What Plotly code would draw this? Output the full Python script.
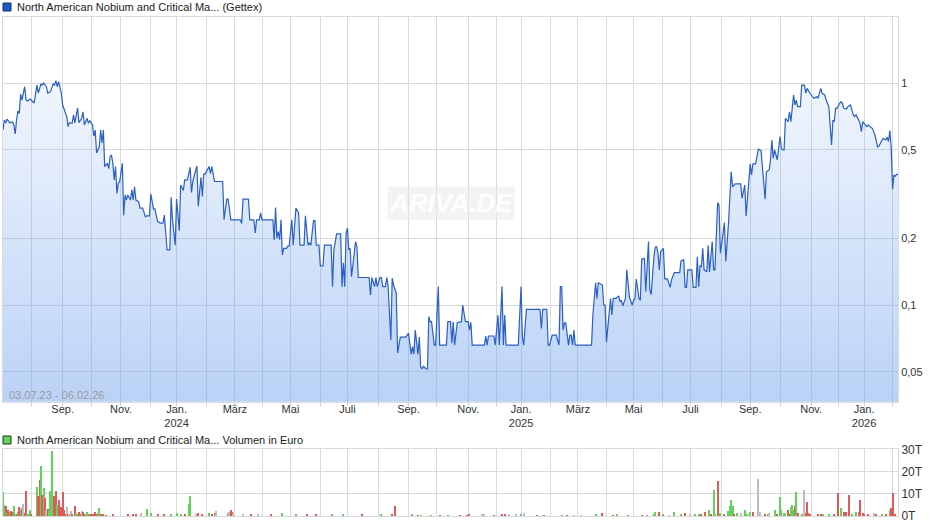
import pandas as pd
import plotly.graph_objects as go

# ---------------- data ----------------
HOLIDAYS = ["2023-12-25", "2023-12-26", "2024-01-01", "2024-03-29", "2024-04-01", "2024-05-01",
            "2024-12-24", "2024-12-25", "2024-12-26", "2024-12-31", "2025-01-01", "2025-04-18",
            "2025-04-21", "2025-05-01", "2025-12-24", "2025-12-25", "2025-12-26", "2025-12-31",
            "2026-01-01"]

price_dates = [
    "2023-07-03", "2023-07-04", "2023-07-05", "2023-07-06", "2023-07-10", "2023-07-12", "2023-07-13", "2023-07-14",
    "2023-07-17", "2023-07-18", "2023-07-19", "2023-07-20", "2023-07-21", "2023-07-25", "2023-07-26", "2023-07-27",
    "2023-07-31", "2023-08-02", "2023-08-03", "2023-08-07", "2023-08-08", "2023-08-10", "2023-08-11", "2023-08-14",
    "2023-08-16", "2023-08-17", "2023-08-21", "2023-08-23", "2023-08-24", "2023-08-25", "2023-08-28", "2023-08-29",
    "2023-08-31", "2023-09-01", "2023-09-05", "2023-09-06", "2023-09-07", "2023-09-08", "2023-09-12", "2023-09-13",
    "2023-09-14", "2023-09-15", "2023-09-18", "2023-09-19", "2023-09-21", "2023-09-22", "2023-09-25", "2023-09-27",
    "2023-09-28", "2023-09-29", "2023-10-03", "2023-10-04", "2023-10-05", "2023-10-06", "2023-10-10", "2023-10-11",
    "2023-10-12", "2023-10-13", "2023-10-16", "2023-10-18", "2023-10-19", "2023-10-20", "2023-10-23", "2023-10-24",
    "2023-10-25", "2023-10-26", "2023-10-27", "2023-10-30", "2023-10-31", "2023-11-02", "2023-11-03", "2023-11-06",
    "2023-11-07", "2023-11-08", "2023-11-10", "2023-11-13", "2023-11-14", "2023-11-15", "2023-11-16", "2023-11-20",
    "2023-11-21", "2023-11-23", "2023-11-27", "2023-11-28", "2023-11-30", "2023-12-01", "2023-12-05", "2023-12-06",
    "2023-12-08", "2023-12-12", "2023-12-14", "2023-12-15", "2023-12-19", "2023-12-21", "2023-12-22", "2023-12-27",
    "2023-12-29",
    "2024-01-02", "2024-01-04", "2024-01-05", "2024-01-09", "2024-01-10", "2024-01-12", "2024-01-16", "2024-01-17",
    "2024-01-18", "2024-01-23", "2024-01-24", "2024-01-26", "2024-01-29", "2024-01-30", "2024-01-31", "2024-02-05",
    "2024-02-06", "2024-02-07", "2024-02-09", "2024-02-19", "2024-02-20", "2024-02-22", "2024-02-23", "2024-02-27",
    "2024-02-29", "2024-03-07", "2024-03-08", "2024-03-11", "2024-03-15", "2024-03-18", "2024-03-21", "2024-03-22",
    "2024-03-25", "2024-03-27", "2024-03-28", "2024-04-02", "2024-04-12", "2024-04-15", "2024-04-16", "2024-04-17",
    "2024-04-18", "2024-04-19", "2024-04-22", "2024-04-23", "2024-04-24", "2024-04-26", "2024-04-29", "2024-04-30",
    "2024-05-03", "2024-05-06", "2024-05-08", "2024-05-09", "2024-05-10", "2024-05-13", "2024-05-16", "2024-05-17",
    "2024-05-21", "2024-05-22", "2024-05-23", "2024-05-27", "2024-05-28", "2024-05-29", "2024-05-31", "2024-06-03",
    "2024-06-05", "2024-06-06", "2024-06-13", "2024-06-14", "2024-06-17", "2024-06-19", "2024-06-24", "2024-06-25",
    "2024-06-26", "2024-06-27", "2024-06-28", "2024-07-01", "2024-07-02", "2024-07-03", "2024-07-04", "2024-07-09",
    "2024-07-10", "2024-07-11", "2024-07-23", "2024-07-24", "2024-07-25", "2024-07-29", "2024-07-30", "2024-07-31",
    "2024-08-02", "2024-08-05", "2024-08-06", "2024-08-08", "2024-08-09", "2024-08-12", "2024-08-14", "2024-08-15",
    "2024-08-16", "2024-08-20", "2024-08-21", "2024-08-23", "2024-08-29", "2024-09-02", "2024-09-04", "2024-09-05",
    "2024-09-06", "2024-09-09", "2024-09-11", "2024-09-12", "2024-09-13", "2024-09-16", "2024-09-17", "2024-09-19",
    "2024-09-20", "2024-09-23", "2024-09-24", "2024-09-25", "2024-09-27", "2024-09-30", "2024-10-02", "2024-10-03",
    "2024-10-10", "2024-10-11", "2024-10-15", "2024-10-16", "2024-10-17", "2024-10-18", "2024-10-22", "2024-10-25",
    "2024-10-28", "2024-10-30", "2024-10-31", "2024-11-01", "2024-11-04", "2024-11-05", "2024-11-06", "2024-11-19",
    "2024-11-20", "2024-11-21", "2024-11-22", "2024-11-28", "2024-11-29", "2024-12-03", "2024-12-04", "2024-12-06",
    "2024-12-09", "2024-12-10", "2024-12-11", "2024-12-27",
    "2025-01-02", "2025-01-03", "2025-01-06", "2025-01-08", "2025-01-22", "2025-01-23", "2025-01-24", "2025-01-29",
    "2025-01-30", "2025-01-31", "2025-02-04", "2025-02-07", "2025-02-11", "2025-02-12", "2025-02-13", "2025-02-14",
    "2025-02-17", "2025-02-18", "2025-02-20", "2025-02-21", "2025-02-24", "2025-02-25", "2025-02-26", "2025-02-27",
    "2025-03-17", "2025-03-18", "2025-03-20", "2025-03-21", "2025-03-24", "2025-03-27", "2025-03-28", "2025-03-31",
    "2025-04-01", "2025-04-03", "2025-04-04", "2025-04-07", "2025-04-08", "2025-04-10", "2025-04-14", "2025-04-15",
    "2025-04-16", "2025-04-17", "2025-04-23", "2025-04-24", "2025-04-28", "2025-04-30", "2025-05-02", "2025-05-05",
    "2025-05-06", "2025-05-08", "2025-05-09", "2025-05-12", "2025-05-14", "2025-05-15", "2025-05-19", "2025-05-20",
    "2025-05-21", "2025-05-23", "2025-05-26", "2025-05-27", "2025-05-28", "2025-05-29", "2025-05-30", "2025-06-03",
    "2025-06-04", "2025-06-06", "2025-06-10", "2025-06-11", "2025-06-13", "2025-06-19", "2025-06-20", "2025-06-24",
    "2025-06-25", "2025-06-26", "2025-06-27", "2025-06-30", "2025-07-02", "2025-07-03", "2025-07-07", "2025-07-08",
    "2025-07-09", "2025-07-10", "2025-07-11", "2025-07-14", "2025-07-15", "2025-07-17", "2025-07-18", "2025-07-21",
    "2025-07-23", "2025-07-24", "2025-07-25", "2025-07-29", "2025-07-30", "2025-07-31", "2025-08-05", "2025-08-06",
    "2025-08-08", "2025-08-12", "2025-08-13", "2025-08-15", "2025-08-21", "2025-08-22", "2025-08-26", "2025-08-27",
    "2025-08-29", "2025-09-01", "2025-09-02", "2025-09-03", "2025-09-05", "2025-09-09", "2025-09-11", "2025-09-12",
    "2025-09-16", "2025-09-17", "2025-09-19", "2025-09-22", "2025-09-23", "2025-09-24", "2025-09-25", "2025-09-29",
    "2025-09-30", "2025-10-01", "2025-10-02", "2025-10-03", "2025-10-06", "2025-10-07", "2025-10-09", "2025-10-10",
    "2025-10-13", "2025-10-14", "2025-10-15", "2025-10-16", "2025-10-17", "2025-10-20", "2025-10-22", "2025-10-23",
    "2025-10-27", "2025-10-28", "2025-10-29", "2025-10-31", "2025-11-04", "2025-11-05", "2025-11-07", "2025-11-10",
    "2025-11-12", "2025-11-13", "2025-11-17", "2025-11-18", "2025-11-20", "2025-11-21", "2025-11-24", "2025-11-25",
    "2025-11-26", "2025-11-27", "2025-11-28", "2025-12-02", "2025-12-03", "2025-12-04", "2025-12-05", "2025-12-09",
    "2025-12-10", "2025-12-12", "2025-12-15", "2025-12-16", "2025-12-17", "2025-12-18", "2025-12-22", "2025-12-23",
    "2025-12-29", "2025-12-30",
    "2026-01-02", "2026-01-06", "2026-01-07", "2026-01-09", "2026-01-12", "2026-01-13", "2026-01-14", "2026-01-16",
    "2026-01-19", "2026-01-20", "2026-01-21", "2026-01-22", "2026-01-26", "2026-01-27", "2026-01-28", "2026-01-29",
    "2026-01-30", "2026-02-02", "2026-02-03", "2026-02-04", "2026-02-05", "2026-02-06"]

price_values = [
    0.614, 0.681, 0.661, 0.688, 0.661, 0.667, 0.647, 0.589,
    0.681, 0.748, 0.730, 0.892, 0.838, 0.962, 0.838, 0.830,
    0.847, 0.824, 0.813, 0.979, 0.901, 0.990, 0.979, 1.000,
    0.962, 0.901, 0.914, 0.990, 0.979, 1.024, 0.962, 1.014,
    0.901, 0.796, 0.733, 0.706, 0.636, 0.663, 0.658, 0.718,
    0.661, 0.706, 0.772, 0.663, 0.694, 0.742, 0.647, 0.694,
    0.658, 0.677, 0.647, 0.577, 0.614, 0.484, 0.516, 0.614,
    0.537, 0.614, 0.420, 0.435, 0.411, 0.466, 0.474, 0.435,
    0.366, 0.420, 0.318, 0.353, 0.358, 0.435, 0.254, 0.313,
    0.297, 0.313, 0.297, 0.330, 0.297, 0.341, 0.297, 0.292,
    0.273, 0.273, 0.250, 0.252, 0.252, 0.316, 0.271, 0.271,
    0.238, 0.234, 0.234, 0.254, 0.177, 0.177, 0.306, 0.242,
    0.186,
    0.300, 0.216, 0.347, 0.328, 0.366, 0.366, 0.417, 0.321,
    0.361, 0.423, 0.278, 0.376, 0.308, 0.389, 0.389, 0.420,
    0.392, 0.420, 0.360, 0.360, 0.242, 0.300, 0.300, 0.242,
    0.242, 0.242, 0.233, 0.300, 0.300, 0.242, 0.242, 0.211,
    0.242, 0.242, 0.260, 0.242, 0.242, 0.196, 0.275, 0.200,
    0.214, 0.197, 0.242, 0.168, 0.180, 0.180, 0.184, 0.184,
    0.242, 0.186, 0.273, 0.265, 0.260, 0.186, 0.186, 0.252,
    0.186, 0.190, 0.186, 0.240, 0.240, 0.186, 0.186, 0.150,
    0.150, 0.186, 0.186, 0.121, 0.177, 0.209, 0.209, 0.121,
    0.155, 0.121, 0.211, 0.222, 0.177, 0.180, 0.134, 0.193,
    0.183, 0.133, 0.133, 0.111, 0.133, 0.121, 0.133, 0.121,
    0.133, 0.133, 0.121, 0.121, 0.133, 0.121, 0.0696, 0.132,
    0.123, 0.113, 0.0608, 0.0717, 0.0717, 0.0748, 0.0601, 0.0649,
    0.0601, 0.0772, 0.0601, 0.0717, 0.0526, 0.0515, 0.0530, 0.0515,
    0.0515, 0.0886, 0.0841, 0.0841, 0.0660, 0.0660, 0.121, 0.0660,
    0.0660, 0.0841, 0.0841, 0.0672, 0.0841, 0.0660, 0.0832, 0.0841,
    0.100, 0.0841, 0.0841, 0.0841, 0.0772, 0.0835, 0.0660, 0.0660,
    0.0725, 0.0660, 0.0725, 0.0725, 0.0660, 0.0902, 0.0660, 0.121,
    0.0660, 0.0902, 0.0660, 0.0660,
    0.121, 0.0717, 0.0660, 0.0956, 0.0956, 0.0785, 0.0956, 0.0956,
    0.0660, 0.0660, 0.0732, 0.0732, 0.0660, 0.121, 0.121, 0.0772,
    0.0832, 0.0832, 0.0660, 0.0732, 0.0732, 0.0660, 0.0772, 0.0660,
    0.0660, 0.0902, 0.126, 0.107, 0.126, 0.123, 0.100, 0.100,
    0.068, 0.0886, 0.107, 0.0902, 0.107, 0.107, 0.110, 0.1035,
    0.105, 0.099, 0.107, 0.144, 0.108, 0.100, 0.105, 0.107,
    0.131, 0.107, 0.105, 0.161, 0.162, 0.115, 0.193, 0.117,
    0.1115, 0.165, 0.182, 0.183, 0.171, 0.144, 0.174, 0.180,
    0.131, 0.131, 0.120, 0.130, 0.140, 0.140, 0.158, 0.160,
    0.120, 0.120, 0.144, 0.144, 0.144, 0.120, 0.120, 0.165,
    0.121, 0.150, 0.149, 0.180, 0.144, 0.141, 0.186, 0.141,
    0.193, 0.144, 0.144, 0.289, 0.282, 0.171, 0.235, 0.157,
    0.233, 0.398, 0.341, 0.351, 0.351, 0.3025, 0.347, 0.252,
    0.347, 0.432, 0.385, 0.432, 0.432, 0.503, 0.496, 0.427,
    0.300, 0.398, 0.406, 0.450, 0.554, 0.458, 0.500, 0.450,
    0.503, 0.573, 0.508, 0.500, 0.500, 0.693, 0.670, 0.742,
    0.670, 0.810, 0.883, 0.796, 0.838, 0.782, 0.782, 0.979,
    0.979, 0.899, 0.946, 0.899, 0.868, 0.853, 0.868, 0.853,
    0.946, 0.899, 0.883, 0.838, 0.782, 0.658, 0.526, 0.681,
    0.670, 0.769, 0.769, 0.810, 0.824, 0.810, 0.769, 0.763,
    0.782, 0.796, 0.756, 0.718, 0.706, 0.718, 0.681, 0.658,
    0.604, 0.670,
    0.658, 0.636, 0.647, 0.636, 0.625, 0.604, 0.583, 0.516,
    0.520, 0.535, 0.554, 0.563, 0.554, 0.570, 0.545, 0.610,
    0.508, 0.332, 0.385, 0.380, 0.388, 0.388]

vol_dates = [
    "2023-07-03", "2023-07-04", "2023-07-05", "2023-07-06", "2023-07-07", "2023-07-10", "2023-07-11", "2023-07-12",
    "2023-07-13", "2023-07-14", "2023-07-17", "2023-07-18", "2023-07-19", "2023-07-20", "2023-07-21", "2023-07-24",
    "2023-07-25", "2023-07-26", "2023-07-27", "2023-07-28", "2023-07-31", "2023-08-01", "2023-08-07", "2023-08-08",
    "2023-08-09", "2023-08-10", "2023-08-11", "2023-08-14", "2023-08-15", "2023-08-16", "2023-08-17", "2023-08-18",
    "2023-08-21", "2023-08-22", "2023-08-23", "2023-08-24", "2023-08-25", "2023-08-28", "2023-08-29", "2023-08-30",
    "2023-08-31", "2023-09-01", "2023-09-04", "2023-09-05", "2023-09-06", "2023-09-07", "2023-09-08", "2023-09-11",
    "2023-09-12", "2023-09-14", "2023-09-15", "2023-09-18", "2023-09-19", "2023-09-20", "2023-09-21", "2023-09-22",
    "2023-09-25", "2023-09-26", "2023-09-27", "2023-09-28", "2023-09-29", "2023-10-02", "2023-10-03", "2023-10-04",
    "2023-10-05", "2023-10-06", "2023-10-09", "2023-10-10", "2023-10-11", "2023-10-13", "2023-10-17", "2023-10-24",
    "2023-11-08", "2023-11-14", "2023-11-16", "2023-11-22", "2023-11-28", "2023-12-01", "2023-12-08", "2023-12-15",
    "2023-12-22",
    "2024-01-02", "2024-01-05", "2024-01-10", "2024-01-15", "2024-01-16", "2024-01-22", "2024-01-24", "2024-01-29",
    "2024-02-05", "2024-02-07", "2024-02-09", "2024-02-12", "2024-02-23", "2024-02-26", "2024-02-27", "2024-02-28",
    "2024-02-29", "2024-03-11", "2024-03-19", "2024-03-26", "2024-04-11", "2024-04-23", "2024-05-08", "2024-05-20",
    "2024-05-29", "2024-06-14", "2024-06-26", "2024-07-16", "2024-08-05", "2024-08-15", "2024-08-19", "2024-09-05",
    "2024-09-11", "2024-09-13", "2024-09-25", "2024-10-03", "2024-10-11", "2024-10-24", "2024-10-31", "2024-11-04",
    "2024-11-15", "2024-11-19", "2024-11-28", "2024-12-06", "2024-12-10", "2024-12-13", "2024-12-20",
    "2025-01-02", "2025-01-06", "2025-01-20", "2025-01-27", "2025-02-13", "2025-02-19", "2025-02-26", "2025-03-05",
    "2025-03-20", "2025-03-27", "2025-04-08", "2025-04-11", "2025-04-25", "2025-05-12", "2025-05-16", "2025-05-23",
    "2025-05-26", "2025-05-29", "2025-06-03", "2025-06-09", "2025-06-13", "2025-06-20", "2025-06-25", "2025-07-01",
    "2025-07-04", "2025-07-09", "2025-07-11", "2025-07-16", "2025-07-21", "2025-07-22", "2025-07-24", "2025-07-25",
    "2025-07-29", "2025-07-31", "2025-08-05", "2025-08-08", "2025-08-11", "2025-08-12", "2025-08-13", "2025-08-14",
    "2025-08-18", "2025-08-21", "2025-08-26", "2025-08-28", "2025-09-01", "2025-09-03", "2025-09-09", "2025-09-10",
    "2025-09-16", "2025-09-18", "2025-09-19", "2025-09-25", "2025-09-29", "2025-10-01", "2025-10-02", "2025-10-06",
    "2025-10-07", "2025-10-09", "2025-10-10", "2025-10-13", "2025-10-14", "2025-10-15", "2025-10-16", "2025-10-17",
    "2025-10-20", "2025-10-23", "2025-10-27", "2025-10-28", "2025-10-29", "2025-10-30", "2025-10-31", "2025-11-10",
    "2025-11-12", "2025-11-14", "2025-11-20", "2025-11-26", "2025-12-01", "2025-12-03", "2025-12-05", "2025-12-09",
    "2025-12-11", "2025-12-15", "2025-12-18", "2025-12-22", "2025-12-23", "2025-12-30",
    "2026-01-02", "2026-01-07", "2026-01-13", "2026-01-15", "2026-01-21", "2026-01-26", "2026-01-29", "2026-01-30",
    "2026-02-02", "2026-02-04"]

vol_values = [
    10500, 5000, 4500, 1200, 2700, 1500, 2200, 1500,
    4200, 900, 500, 1500, 3700, 2700, 3300, 5400,
    1200, 11200, 500, 500, 2700, 500, 12700, 8700,
    15900, 22200, 9500, 12300, 8100, 2700, 3200, 2000,
    11200, 29200, 3200, 9000, 11200, 5000, 6900, 1500,
    3900, 10800, 2700, 500, 3900, 500, 500, 2000,
    500, 4500, 1200, 700, 1800, 900, 2100, 1500,
    500, 500, 1500, 800, 500, 500, 500, 500,
    1500, 500, 1200, 3500, 500, 900, 300, 500,
    500, 500, 500, 1200, 3200, 1200, 700, 500,
    500,
    1200, 500, 700, 5400, 9000, 500, 1200, 500,
    1200, 500, 1200, 2200, 1000, 1500, 2700, 1600,
    500, 500, 500, 500, 500, 1200, 500, 500,
    500, 500, 500, 500, 500, 500, 4500, 500,
    300, 300, 300, 300, 300, 300, 300, 500,
    500, 500, 300, 600, 500, 500, 500,
    700, 1200, 300, 300, 300, 300, 300, 300,
    600, 1200, 300, 600, 300, 300, 300, 900,
    1500, 1500, 600, 300, 1500, 600, 1200, 800,
    500, 500, 600, 1500, 2500, 800, 11700, 500,
    15800, 1200, 500, 2100, 4500, 6900, 4200, 600,
    1200, 1200, 2400, 600, 1500, 1500, 16500, 1500,
    600, 900, 1200, 2400, 600, 8200, 2400, 1200,
    1200, 2700, 600, 3900, 5000, 2700, 4200, 10800,
    1200, 800, 11400, 1200, 6000, 1000, 500, 600,
    500, 900, 500, 600, 10000, 3300, 1500, 1500,
    9300, 600, 1500, 1500, 6900, 1200,
    500, 600, 1200, 900, 500, 500, 2700, 3600,
    10000, 600]

# u = up (green), d = down (red), n = unchanged (grey)
vol_dirs = [
    "u", "u", "d", "u", "d", "u", "d", "d",
    "u", "u", "d", "u", "d", "u", "d", "n",
    "d", "d", "u", "u", "u", "d", "u", "d",
    "d", "u", "d", "u", "d", "n", "d", "u",
    "u", "u", "u", "d", "d", "u", "d", "d",
    "d", "d", "d", "d", "n", "d", "n", "n",
    "d", "d", "u", "u", "d", "d", "n", "d",
    "d", "u", "u", "u", "d", "d", "d", "d",
    "d", "d", "u", "u", "d", "d", "d", "d",
    "d", "d", "d", "n", "u", "u", "d", "d",
    "u",
    "u", "u", "d", "u", "u", "n", "d", "d",
    "u", "d", "d", "n", "u", "n", "d", "d",
    "n", "n", "d", "n", "d", "u", "u", "d",
    "d", "u", "u", "d", "u", "d", "d", "u",
    "d", "u", "u", "d", "u", "d", "d", "d",
    "n", "n", "d", "d", "d", "n", "n",
    "u", "n", "d", "d", "u", "d", "n", "n",
    "u", "d", "d", "u", "u", "d", "u", "u",
    "u", "d", "u", "n", "u", "u", "d", "n",
    "u", "u", "d", "d", "u", "d", "u", "u",
    "d", "u", "d", "u", "u", "u", "u", "d",
    "u", "n", "u", "u", "u", "d", "n", "n",
    "d", "u", "n", "u", "d", "u", "u", "u",
    "u", "d", "d", "u", "u", "u", "d", "u",
    "d", "u", "n", "d", "d", "d", "d", "d",
    "d", "u", "u", "d", "d", "u", "d", "d",
    "d", "u", "u", "d", "d", "d",
    "d", "d", "n", "d", "u", "d", "u", "d",
    "d", "d"]

month_tick_text = ["", "Sep.", "", "Nov.", "", "Jan.<br>2024", "", "März", "", "Mai", "", "Juli",
                   "", "Sep.", "", "Nov.", "", "Jan.<br>2025", "", "März", "", "Mai", "", "Juli",
                   "", "Sep.", "", "Nov.", "", "Jan.<br>2026", ""]

price_tick_vals = [0.05, 0.1, 0.2, 0.5, 1]
price_tick_text = ["0,05", "0,1", "0,2", "0,5", "1"]
vol_tick_vals = [0, 10000, 20000, 30000]
vol_tick_text = ["0T", "10T", "20T", "30T"]

# ---------------- trading-day axis ----------------
days = pd.bdate_range("2023-07-03", "2026-02-06")
days = days[~days.isin(pd.to_datetime(HOLIDAYS))]


def to_idx(ds):
    return [int(i) for i in days.searchsorted(pd.to_datetime(ds))]


px = to_idx(price_dates)
vx = to_idx(vol_dates)
month_starts = pd.date_range("2023-08-01", "2026-02-01", freq="MS")
tickvals = [int(i) for i in days.searchsorted(month_starts)]
last = len(days) - 1

DIR_COLORS = {"u": "#5fd35a", "d": "#e05a5a", "n": "#bdbdbd"}
vcolors = [DIR_COLORS[d] for d in vol_dirs]

GRID = "#dadada"
FONT = "Liberation Sans, Arial, sans-serif"

fig = go.Figure()
fig.add_trace(go.Scatter(
    x=px, y=price_values, mode="lines", xaxis="x", yaxis="y",
    line=dict(color="#2a5fc4", width=1.2),
    fill="tozeroy",
    fillgradient=dict(type="vertical", start=0.0367, stop=1.98,
                      colorscale=[[0, "rgba(106,157,237,0.46)"], [1, "rgba(106,157,237,0.02)"]]),
    hoverinfo="skip"))
fig.add_trace(go.Bar(
    x=vx, y=vol_values, xaxis="x2", yaxis="y2", marker=dict(color=vcolors, line=dict(width=0)),
    width=0.8, hoverinfo="skip"))

W, H = 940, 526
ML, MR, MT, MB = 3, 42, 17, 10
PW, PH = W - ML - MR, H - MT - MB


def pxx(x):
    return (x - ML) / PW


def pxy(y):
    return (H - MB - y) / PH


fig.update_layout(
    width=W, height=H, margin=dict(l=ML, r=MR, t=MT, b=MB),
    paper_bgcolor="white", plot_bgcolor="white", showlegend=False, bargap=0,
    font=dict(family=FONT, size=11, color="#333333"),
    xaxis=dict(domain=[0, 1], range=[0, last], anchor="y", tickmode="array", tickvals=tickvals,
               ticktext=month_tick_text, showgrid=True, gridcolor=GRID, gridwidth=1, ticks="outside",
               ticklen=3, tickcolor="#cccccc", ticklabelstandoff=-6, showline=True, linecolor=GRID,
               mirror=True, zeroline=False, tickfont=dict(size=11, color="#333333"), fixedrange=True),
    yaxis=dict(domain=[pxy(401.7), 1], type="log", range=[-1.4356, 0.2973], side="right", anchor="x",
               tickmode="array", tickvals=price_tick_vals, ticktext=price_tick_text, showgrid=True,
               gridcolor=GRID, showline=True, linecolor=GRID, mirror=True, ticks="", zeroline=False,
               tickfont=dict(size=11, color="#333333")),
    xaxis2=dict(domain=[0, 1], range=[0, last], anchor="y2", matches="x", tickmode="array",
                tickvals=tickvals, showticklabels=False, showgrid=True, gridcolor=GRID, ticks="",
                showline=True, linecolor=GRID, mirror=True, zeroline=False),
    yaxis2=dict(domain=[0, pxy(449.3)], range=[0, 30000], side="right", anchor="x2", tickmode="array",
                tickvals=vol_tick_vals, ticktext=vol_tick_text, showgrid=True, gridcolor=GRID,
                showline=True, linecolor=GRID, mirror=True, ticks="", zeroline=False,
                tickfont=dict(size=12, color="#333333")),
)

# legend-like headers
fig.add_shape(type="rect", xref="paper", yref="paper", x0=pxx(3), x1=pxx(11), y0=pxy(11), y1=pxy(3),
              fillcolor="#1f5bc6", line=dict(color="#1a2f6a", width=1))
fig.add_annotation(xref="paper", yref="paper", x=pxx(15), y=pxy(7), xanchor="left", yanchor="middle",
                   text="North American Nobium and Critical Ma... (Gettex)", showarrow=False,
                   font=dict(size=11, color="#222222", family=FONT))
fig.add_shape(type="rect", xref="paper", yref="paper", x0=pxx(3), x1=pxx(11), y0=pxy(444), y1=pxy(436),
              fillcolor="#5fd35a", line=dict(color="#1f3a1f", width=1))
fig.add_annotation(xref="paper", yref="paper", x=pxx(15), y=pxy(440), xanchor="left", yanchor="middle",
                   text="North American Nobium and Critical Ma... Volumen in Euro", showarrow=False,
                   font=dict(size=11, color="#222222", family=FONT))
# period text
fig.add_annotation(xref="paper", yref="paper", x=pxx(7), y=pxy(395), xanchor="left", yanchor="middle",
                   text="03.07.23 - 06.02.26", showarrow=False,
                   font=dict(size=11, color="#9a9a9a", family=FONT))
# watermark
fig.add_annotation(xref="paper", yref="paper", x=pxx(451), y=pxy(203), xanchor="center", yanchor="middle",
                   text="<b><i>ARIVA.DE</i></b>", showarrow=False, bgcolor="rgba(232,232,232,0.5)",
                   borderpad=1, font=dict(size=26, color="rgba(255,255,255,0.95)", family=FONT))

fig.write_html("out.html", post_script="document.body.style.margin='0px';",
               config={"displayModeBar": False})
